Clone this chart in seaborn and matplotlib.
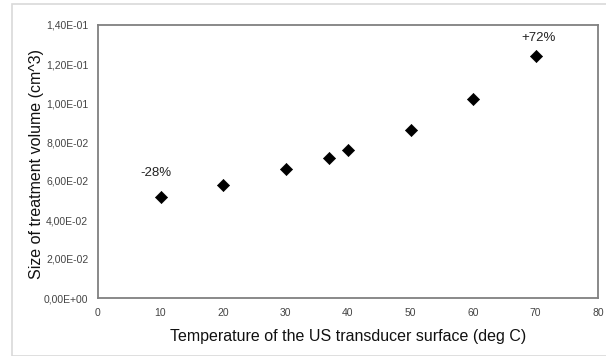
import matplotlib
matplotlib.use("Agg")
import matplotlib.pyplot as plt
import seaborn as sns
import pandas as pd
from matplotlib.ticker import FuncFormatter, MultipleLocator
from matplotlib.patches import Rectangle

temperature = [10, 20, 30, 37, 40, 50, 60, 70]
volume = [0.052, 0.058, 0.066, 0.072, 0.076, 0.086, 0.102, 0.124]
annot_text = ["-28%", "+72%"]
annot_x = [10, 70]
annot_y = [0.052, 0.124]

df = pd.DataFrame({"T": temperature, "V": volume})

sns.set_theme(style="white")
plt.rcParams['font.family'] = ['Liberation Sans', 'DejaVu Sans']

fig = plt.figure(figsize=(6.06, 3.56), dpi=100)
fig.patches.append(Rectangle((12/606, 0), 1, 1 - 4/356, transform=fig.transFigure,
                             fill=False, edgecolor="#d9d9d9", linewidth=1.2))
ax = fig.add_axes([98/606, 58/356, 500/606, 273/356])

sns.scatterplot(data=df, x="T", y="V", ax=ax, marker="D", s=38, color="black",
                edgecolor="black", linewidth=0.5, legend=False)

offsets = [(-3, 13), (2, 8.5)]
for t, x, y, off in zip(annot_text, annot_x, annot_y, offsets):
    ax.annotate(t, (x, y), xytext=off, textcoords="offset points",
                ha="center", va="bottom", fontsize=9.5, color="#222222")

ax.set_xlim(0, 80)
ax.set_ylim(0, 0.14)
ax.xaxis.set_major_locator(MultipleLocator(10))
ax.yaxis.set_major_locator(MultipleLocator(0.02))

def yfmt(v, pos):
    s = "%.2E" % v
    return s.replace(".", ",")
ax.yaxis.set_major_formatter(FuncFormatter(yfmt))
ax.xaxis.set_major_formatter(FuncFormatter(lambda v, p: "%d" % v))

for sp in ax.spines.values():
    sp.set_color("#808080")
    sp.set_linewidth(1.3)
ax.tick_params(axis="both", direction="out", length=3, width=0.8, color="#808080",
               labelsize=7.5, labelcolor="#444444", pad=4)
ax.tick_params(axis="x", pad=4)
ax.set_xlabel("Temperature of the US transducer surface (deg C)", fontsize=11.5,
              color="#111111", labelpad=8)
ax.set_ylabel("Size of treatment volume (cm^3)", fontsize=11.5, color="#111111")
ax.yaxis.set_label_coords(-0.107, 0.49)

fig.savefig("out.png", dpi=100)
